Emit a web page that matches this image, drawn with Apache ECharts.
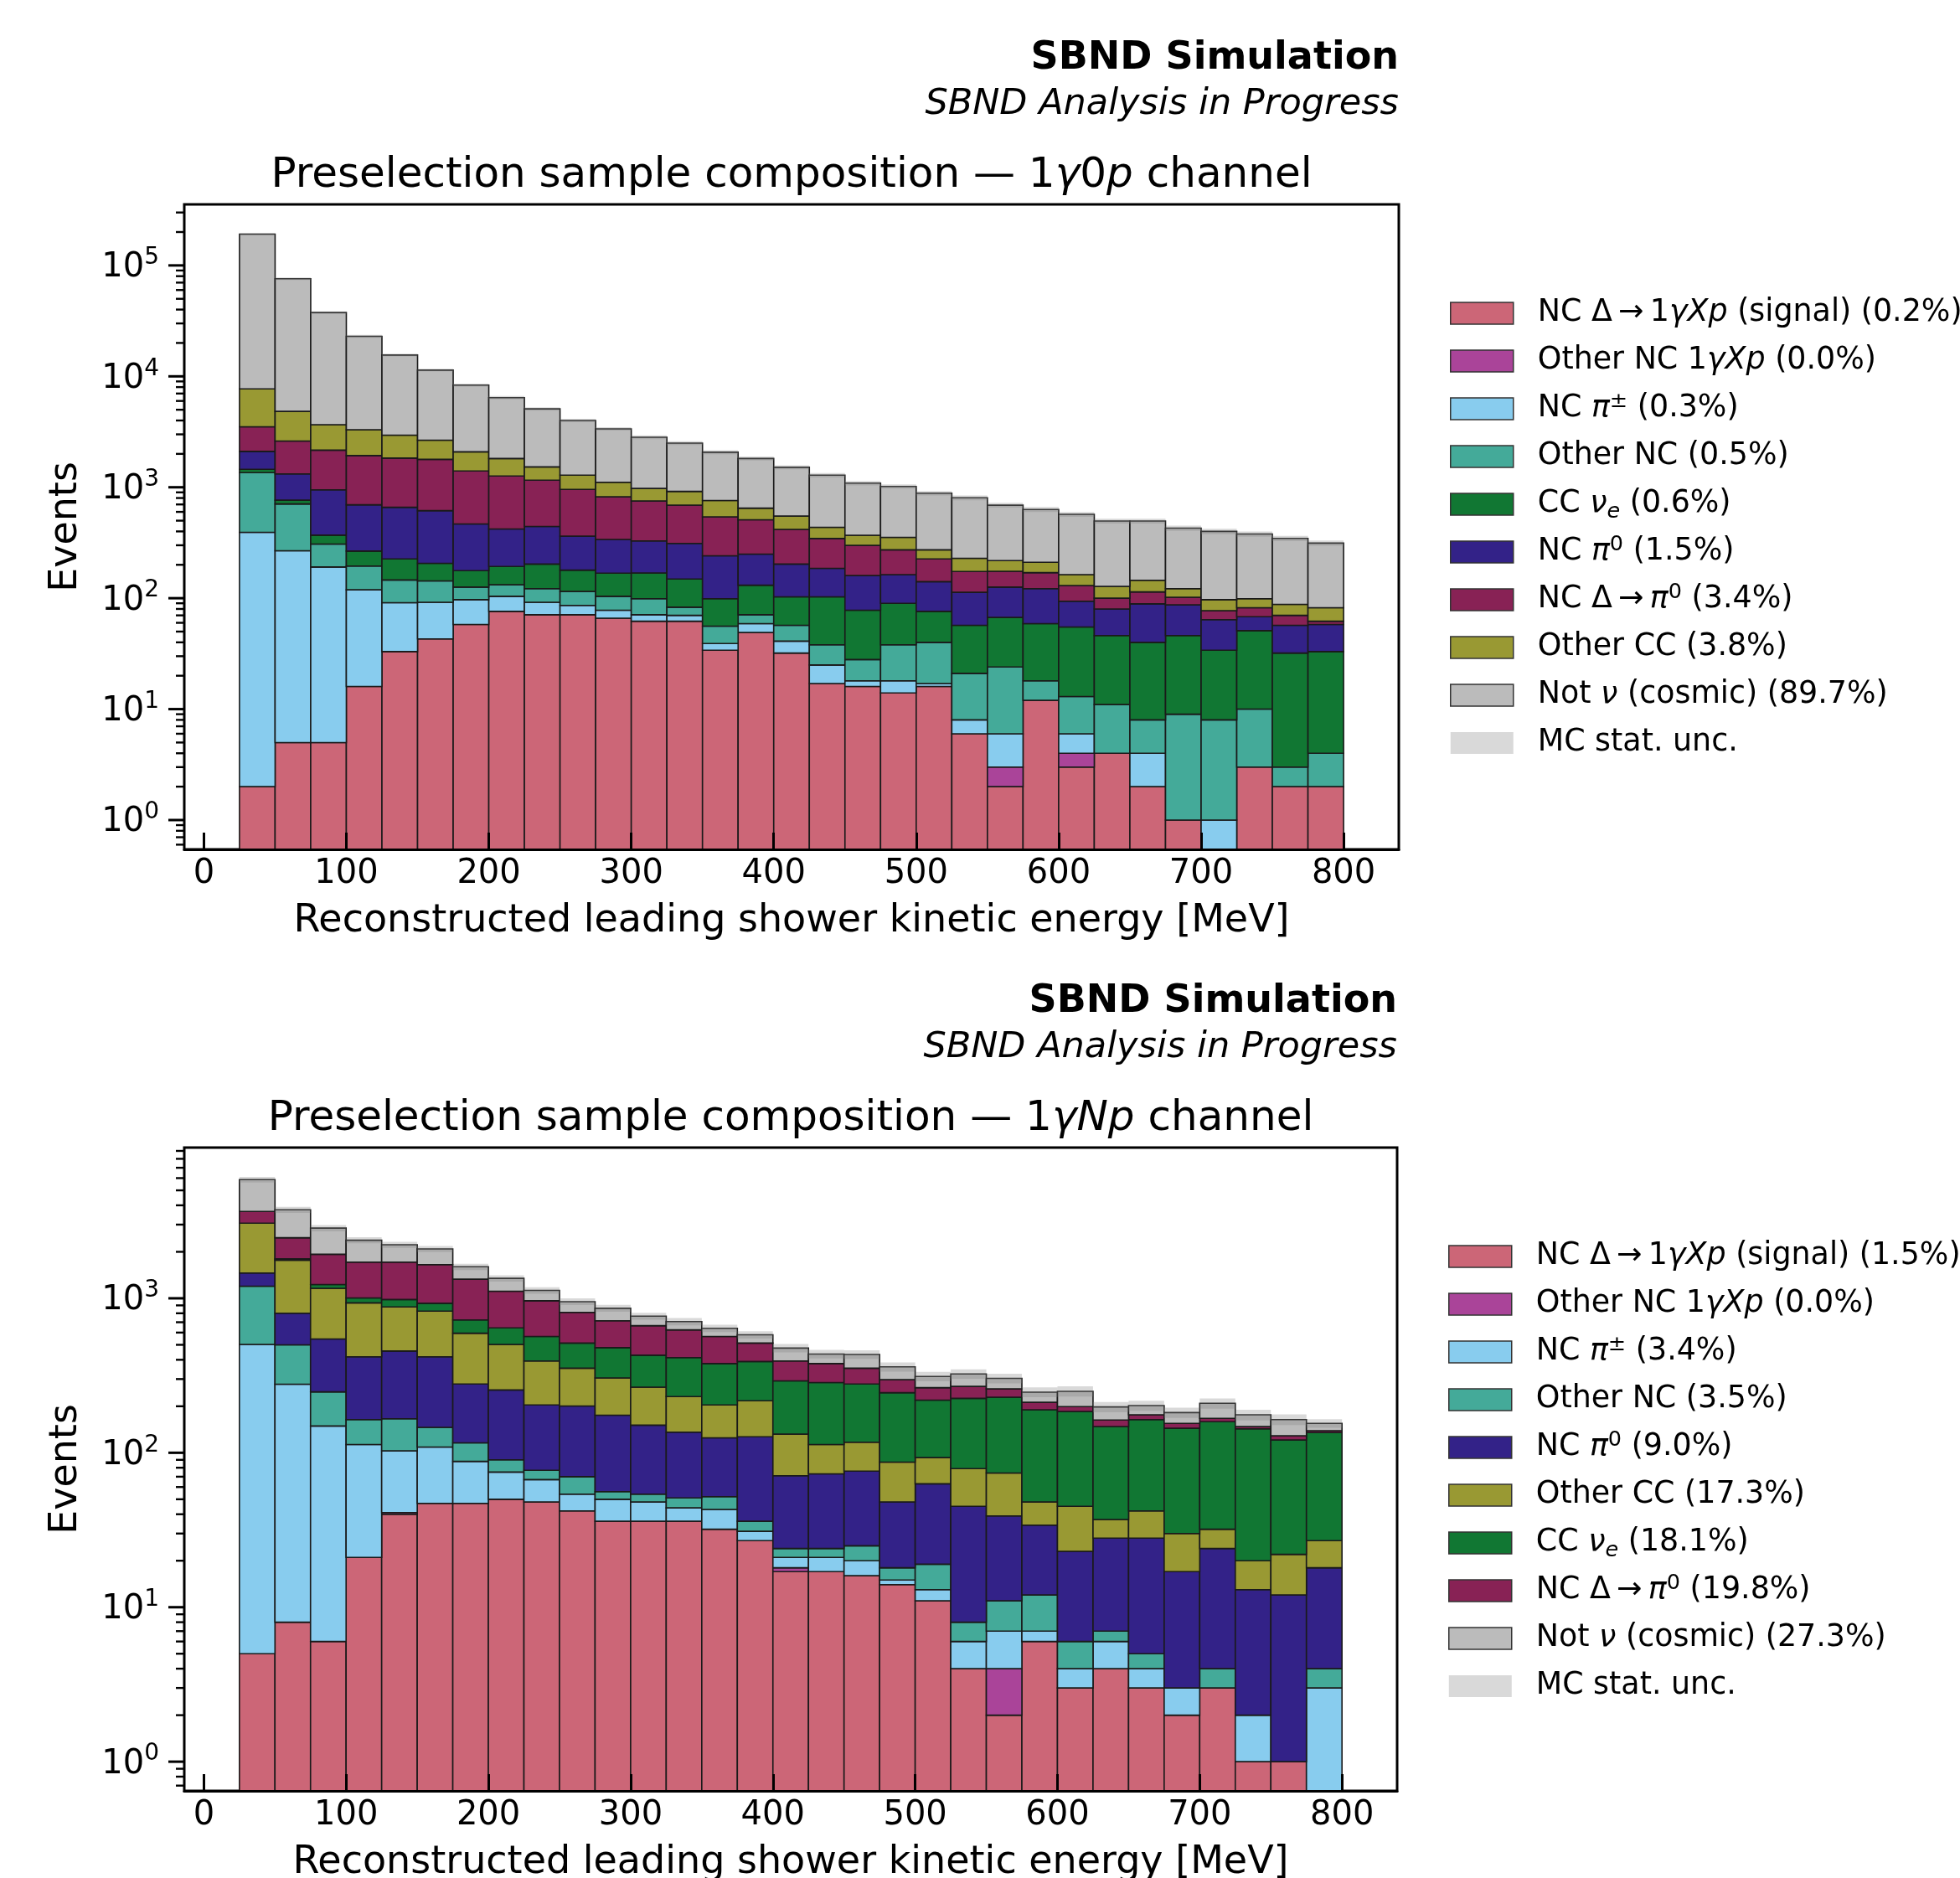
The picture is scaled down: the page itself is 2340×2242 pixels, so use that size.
<!DOCTYPE html>
<html>
<head>
<meta charset="utf-8">
<title>SBND preselection sample composition</title>
<script src="https://cdn.jsdelivr.net/npm/echarts@6.0.0/dist/echarts.min.js"></script>
<style>
html, body { margin:0; padding:0; background:#ffffff; }
#chart { width:2340px; height:2242px; }
</style>
</head>
<body>
<div id="chart"></div>
<script>
// ================= DATA =================
// histogram bin edges [MeV]
const binEdges = [25,50,75,100,125,150,175,200,225,250,275,300,325,350,375,400,425,450,475,500,525,550,575,600,625,650,675,700,725,750,775,800];

// ---- 1γ0p channel: events per bin ----
const zp_signal  = [2,5,5,16,33,43,58,76,71,71,66,62,62,34,49,32,17,16,14,16,6,2,12,3,4,2,1,0,3,2,2];
const zp_other1g = [0,0,0,0,0,0,0,0,0,0,0,0,0,0,0,0,0,0,0,0,0,1,0,1,0,0,0,0,0,0,0];
const zp_pipm    = [391,263,186,103,58,49,39,28,21,15,12,9,8,5,10,9,8,2,4,1,2,3,0,2,0,2,0,1,0,0,0];
const zp_otherNC = [962,439,117,76,55,51,29,28,30,29,26,28,13,17,12,16,13,10,20,23,13,18,6,7,7,4,8,7,7,1,2];
const zp_nue     = [97,58,62,71,80,63,51,61,81,64,64,70,66,43,60,46,65,50,52,36,36,43,41,42,35,32,37,26,41,29,29];
const zp_pi0     = [654,554,579,429,434,409,290,228,240,184,171,159,163,142,119,100,83,82,73,65,56,59,63,39,34,49,41,30,17,25,25];
const zp_delta   = [1404,1295,1212,1236,1173,1170,935,843,716,595,481,424,378,301,259,214,159,139,110,85,61,49,48,36,20,25,15,13,14,13,4];
const zp_otherCC = [4200,2216,1503,1372,1118,874,686,553,369,327,289,223,228,217,140,133,91,70,81,47,55,43,41,33,28,31,20,20,17,18,20];
const zp_cosmic  = [183800,71000,33900,19660,12610,8720,6250,4613,3562,2712,2249,1851,1585,1312,1168,964,849,721,664,612,575,471,420,407,368,351,306,303,280,258,232];
const zp_statUnc = [3800,1900,940,690,470,340,250,225,180,140,118,113,100,83,73,61,58,49,46,40,40,34,32,28,25,25,24,22,21,19,17];
// legend percentages (legend order)
const zp_legendKeys = ['signal','other1g','pipm','otherNC','nue','pi0','delta','otherCC','cosmic'];
const zp_legendPct  = [0.2, 0.0, 0.3, 0.5, 0.6, 1.5, 3.4, 3.8, 89.7];

// ---- 1γNp channel: events per bin ----
const np_signal  = [5,8,6,21,40,47,47,50,48,42,36,36,36,32,27,17,17,16,14,11,4,2,6,3,4,3,2,3,1,1,0];
const np_other1g = [0,0,0,0,1,0,0,0,0,0,0,0,0,0,0,1,0,0,0,0,0,2,0,0,0,0,0,0,0,0,0];
const np_pipm    = [498,270,143,92,62,62,41,25,19,12,14,12,8,11,4,3,4,4,1,2,2,3,1,1,2,1,1,0,1,0,3];
const np_otherNC = [694,222,99,51,63,37,28,15,10,16,6,6,7,9,5,3,3,5,3,6,2,4,5,2,1,1,0,1,0,0,1];
const np_pi0     = [262,300,297,254,290,272,163,165,127,131,119,97,85,73,91,47,49,51,30,44,37,28,22,17,21,23,14,20,11,11,14];
const np_otherCC = [1609,967,616,516,423,408,315,248,189,152,130,115,95,79,90,61,40,41,39,30,34,35,14,22,9,14,13,8,7,10,9];
const np_nue     = [0,33,67,72,103,103,131,141,173,160,174,162,182,174,173,160,172,162,158,126,146,155,142,140,111,122,114,127,123,99,108];
const np_delta   = [580,667,700,708,732,723,605,467,398,298,237,237,212,188,123,101,93,74,52,45,44,30,22,14,15,12,11,8,5,8,4];
const np_cosmic  = [2222,1273,919,664,509,437,270,235,161,140,146,101,82,74,67,83,58,80,63,48,55,44,35,51,35,26,27,42,28,35,16];
const np_statUnc = [250,170,130,110,100,95,75,65,55,48,44,40,38,35,32,30,28,28,25,22,23,22,18,19,15,15,14,16,14,13,10];
const np_legendKeys = ['signal','other1g','pipm','otherNC','pi0','otherCC','nue','delta','cosmic'];
const np_legendPct  = [1.5, 0.0, 3.4, 3.5, 9.0, 17.3, 18.1, 19.8, 27.3];

// axis tick labels
const xTickValues = [0,100,200,300,400,500,600,700,800];
const zp_yMajor = [1,10,100,1000,10000,100000];
const np_yMajor = [1,10,100,1000];

// ================= STYLE =================
const FONT = 'DejaVu Sans';
const COLORS = {
  signal:'#CC6677', other1g:'#AA4499', pipm:'#88CCEE', otherNC:'#44AA99', nue:'#117733',
  pi0:'#332288', delta:'#882255', otherCC:'#999933', cosmic:'#BBBBBB', unc:'#D9D9D9'
};
const NAMES = {
  signal:'NC Δ→1γXp (signal)', other1g:'Other NC 1γXp', pipm:'NC π±', otherNC:'Other NC',
  nue:'CC νe', pi0:'NC π0', delta:'NC Δ→π0', otherCC:'Other CC', cosmic:'Not ν (cosmic)', unc:'MC stat. unc.'
};
const X_MIN = -13.75, X_MAX = 838.75;
const panels = [
  { comp:{signal:zp_signal, other1g:zp_other1g, pipm:zp_pipm, otherNC:zp_otherNC, nue:zp_nue, pi0:zp_pi0, delta:zp_delta, otherCC:zp_otherCC, cosmic:zp_cosmic},
    order:['signal','other1g','pipm','otherNC','nue','pi0','delta','otherCC','cosmic'],
    unc: zp_statUnc, legendKeys: zp_legendKeys, legendPct: zp_legendPct, yMajor: zp_yMajor,
    yMin: 0.544, yMax: 355000,
    grid:{left:220, top:244, width:1450, height:770}, legendPos:{left:1731, top:352},
    channel:'{it|γ}0{it|p}', top:244 },
  { comp:{signal:np_signal, other1g:np_other1g, pipm:np_pipm, otherNC:np_otherNC, nue:np_nue, pi0:np_pi0, delta:np_delta, otherCC:np_otherCC, cosmic:np_cosmic},
    order:['signal','other1g','pipm','otherNC','pi0','otherCC','nue','delta','cosmic'],
    unc: np_statUnc, legendKeys: np_legendKeys, legendPct: np_legendPct, yMajor: np_yMajor,
    yMin: 0.647, yMax: 9460,
    grid:{left:220, top:1370, width:1448, height:768}, legendPos:{left:1729, top:1478},
    channel:'{it|γNp}', top:1370 }
];

function legendLabel(key, pct) {
  const p = (typeof pct === 'number') ? ' (' + pct.toFixed(1) + '%)' : '';
  const arrow = '\u2009→\u2009';
  switch (key) {
    case 'signal':  return '{g| }NC Δ' + arrow + '1{i|γXp} (signal)' + p;
    case 'other1g': return '{g| }Other NC 1{i|γXp}' + p;
    case 'pipm':    return '{g| }NC {i|π}{sup|±}' + p;
    case 'otherNC': return '{g| }Other NC' + p;
    case 'nue':     return '{g| }CC {i|ν}{sub|e}' + p;
    case 'pi0':     return '{g| }NC {i|π}{sup|0}' + p;
    case 'delta':   return '{g| }NC Δ' + arrow + '{i|π}{sup|0}' + p;
    case 'otherCC': return '{g| }Other CC' + p;
    case 'cosmic':  return '{g| }Not {i|ν} (cosmic)' + p;
    default:        return '{g| }MC stat. unc.';
  }
}

// ================= RENDERERS =================
function barRenderer(color) {
  return function (params, api) {
    const cs = params.coordSys;
    const b = api.value(2), t = api.value(3);
    const pL = api.coord([api.value(0), t]);
    const pR = api.coord([api.value(1), t]);
    const yBase = b > 0 ? api.coord([api.value(0), b])[1] : cs.y + cs.height;
    return { type:'rect',
      shape:{ x:pL[0], y:pL[1], width:pR[0]-pL[0], height:yBase-pL[1] },
      style:{ fill:color, stroke:'#1a1a1a', lineWidth:1.6 } };
  };
}
function uncRenderer(params, api) {
  const pL = api.coord([api.value(0), api.value(3)]);
  const pR = api.coord([api.value(1), api.value(3)]);
  const pB = api.coord([api.value(0), api.value(2)]);
  return { type:'rect', shape:{ x:pL[0], y:pL[1], width:pR[0]-pL[0], height:pB[1]-pL[1] },
    style:{ fill:'rgba(128,128,128,0.3)' } };
}
function yTickRenderer(params, api) {
  const cs = params.coordSys;
  const y = api.coord([0, api.value(1)])[1];
  const len = api.value(2);
  return { type:'line', shape:{ x1:cs.x - len, y1:y, x2:cs.x, y2:y },
    style:{ stroke:'#000', lineWidth:api.value(3) } };
}

// ================= OPTION =================
const option = {
  backgroundColor:'#ffffff',
  animation:false,
  textStyle:{ fontFamily:FONT },
  grid:[], xAxis:[], yAxis:[], series:[], legend:[], graphic:[]
};

panels.forEach((P, gi) => {
  option.grid.push(Object.assign({ show:true, borderColor:'#000', borderWidth:3, backgroundColor:'transparent' }, P.grid));
  option.xAxis.push({
    type:'value', gridIndex:gi, min:X_MIN, max:X_MAX, minInterval:100, maxInterval:100, splitNumber:8, z:5,
    axisLine:{ show:true, lineStyle:{ color:'#000', width:3 } },
    axisTick:{ show:true, inside:true, length:20, lineStyle:{ color:'#000', width:3 } },
    axisLabel:{ show:true, color:'#000', fontSize:40, fontFamily:FONT, margin:10, showMinLabel:false, showMaxLabel:false,
      formatter: v => (xTickValues.indexOf(v) >= 0 ? String(v) : '') },
    splitLine:{ show:false }
  });
  option.yAxis.push({
    type:'log', logBase:10, gridIndex:gi, min:P.yMin, max:P.yMax,
    axisLine:{ show:false }, axisTick:{ show:false }, splitLine:{ show:false },
    axisLabel:{ show:true, color:'#000', margin:30, showMinLabel:false, showMaxLabel:false,
      formatter: v => {
        const e = Math.round(Math.log10(v));
        if (Math.abs(Math.log10(v) - e) > 1e-6) return '';
        return '{b|10}{s|' + e + '}';
      },
      rich:{ b:{ fontSize:40, fontFamily:FONT, lineHeight:46, verticalAlign:'bottom', color:'#000' },
             s:{ fontSize:28, fontFamily:FONT, lineHeight:28, verticalAlign:'top', color:'#000' } } }
  });

  // stacked bars
  const n = binEdges.length - 1;
  const cum = new Array(n).fill(0);
  P.order.forEach(key => {
    const vals = P.comp[key];
    const rows = [];
    for (let i = 0; i < n; i++) {
      const b = cum[i], t = cum[i] + vals[i];
      if (vals[i] > 0) rows.push([binEdges[i], binEdges[i+1], b, t]);
      cum[i] = t;
    }
    option.series.push({ type:'custom', name:NAMES[key], xAxisIndex:gi, yAxisIndex:gi,
      renderItem:barRenderer(COLORS[key]), data:rows, encode:{ x:[0,1], y:3 },
      itemStyle:{ color:COLORS[key] }, z:2, silent:true, clip:true });
  });
  // MC stat. unc. band
  const urows = [];
  for (let i = 0; i < n; i++) urows.push([binEdges[i], binEdges[i+1], cum[i]-P.unc[i], cum[i]+P.unc[i]]);
  option.series.push({ type:'custom', name:NAMES.unc, xAxisIndex:gi, yAxisIndex:gi,
    renderItem:uncRenderer, data:urows, encode:{ x:[0,1], y:3 },
    itemStyle:{ color:COLORS.unc }, z:3, silent:true, clip:true });

  // y ticks (major + log minor)
  const tickRows = [];
  P.yMajor.forEach(v => tickRows.push([0, v, 19, 3]));
  for (let e = -1; e <= 5; e++) for (let m = 2; m <= 9; m++) {
    const v = m * Math.pow(10, e);
    if (v > P.yMin && v < P.yMax) tickRows.push([0, v, 10, 2.4]);
  }
  option.series.push({ type:'custom', name:'_yticks' + gi, xAxisIndex:gi, yAxisIndex:gi,
    renderItem:yTickRenderer, data:tickRows, encode:{ y:1 }, z:6, silent:true, clip:false });

  // legend
  const lmap = {};
  const ldata = [];
  P.legendKeys.forEach((k, j) => {
    lmap[NAMES[k]] = legendLabel(k, P.legendPct[j]);
    ldata.push({ name:NAMES[k], icon:'rect', itemStyle:{ color:COLORS[k], borderColor:'#333', borderWidth:1.5 } });
  });
  lmap[NAMES.unc] = legendLabel('unc');
  ldata.push({ name:NAMES.unc, icon:'rect', itemStyle:{ color:COLORS.unc, borderWidth:0 } });
  option.legend.push({
    orient:'vertical', left:P.legendPos.left, top:P.legendPos.top, padding:0, selectedMode:false,
    itemWidth:75, itemHeight:26, itemGap:13, align:'left', icon:'rect',
    data:ldata, formatter: name => lmap[name],
    textStyle:{ color:'#000', fontFamily:FONT, fontSize:36.4, lineHeight:44,
      rich:{ g:{ width:24 },
             i:{ fontStyle:'italic', fontFamily:FONT, fontSize:36.4, lineHeight:44 },
             sup:{ fontFamily:FONT, fontSize:25.5, lineHeight:26, verticalAlign:'top' },
             sub:{ fontFamily:FONT, fontStyle:'italic', fontSize:25.5, lineHeight:26, verticalAlign:'bottom' } } }
  });

  // texts
  const g = P.grid;
  const cx = g.left + g.width / 2;
  option.graphic.push(
    { type:'text', x:g.left + g.width, y:P.top - 174, style:{ text:'SBND Simulation', fontFamily:FONT, fontWeight:'bold', fontSize:46, fill:'#000', align:'right', verticalAlign:'middle' } },
    { type:'text', x:g.left + g.width, y:P.top - 119, style:{ text:'SBND Analysis in Progress', fontFamily:FONT, fontStyle:'italic', fontSize:43, fill:'#000', align:'right', verticalAlign:'middle' } },
    { type:'text', x:cx, y:P.top - 34, style:{ text:'Preselection sample composition — 1' + P.channel + ' channel', fontFamily:FONT, fontSize:50, fill:'#000', align:'center', verticalAlign:'middle',
        rich:{ it:{ fontStyle:'italic', fontFamily:FONT, fontSize:50, fill:'#000' } } } },
    { type:'text', x:cx, y:g.top + g.height + 86, style:{ text:'Reconstructed leading shower kinetic energy [MeV]', fontFamily:FONT, fontSize:46, fill:'#000', align:'center', verticalAlign:'middle' } },
    { type:'text', x:79, y:g.top + g.height / 2, rotation:Math.PI / 2, style:{ text:'Events', fontFamily:FONT, fontSize:46, fill:'#000', align:'center', verticalAlign:'middle' } }
  );
});

const chart = echarts.init(document.getElementById('chart'), null, { renderer:'canvas', width:2340, height:2242 });
chart.setOption(option);
</script>
</body>
</html>
